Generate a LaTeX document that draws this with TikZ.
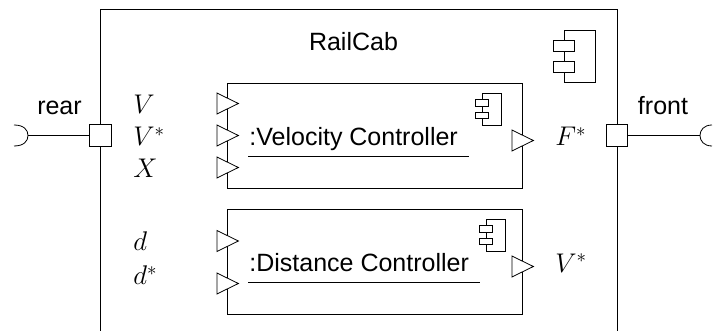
\documentclass[tikz,border=0pt]{standalone}
\usepackage{fix-cm}
\usepackage{fontspec}
\setmainfont{Liberation Sans}
\usetikzlibrary{shapes.geometric}
\tikzset{
  compbox/.style={draw,anchor=north west,inner sep=0pt,minimum width=295pt,minimum height=105pt},
  partbox/.style={draw,fill=white,inner sep=0pt,minimum width=#1},
  portbox/.style={draw,fill=white,inner sep=0pt,minimum size=21.5pt},
  flowport/.style={draw,fill=white,isosceles triangle,isosceles triangle stretches,inner sep=0pt,
    minimum width=21pt,minimum height=21.5pt,anchor=lower side},
  txt/.style={inner sep=0pt,font=\fontsize{25}{30}\selectfont},
  var/.style={inner sep=0pt,anchor=base west,font=\fontsize{27}{32}\selectfont}
}
\begin{document}
\begin{tikzpicture}[x=1pt,y=-1pt,line width=.8pt,line join=miter]
\useasboundingbox (0,0) rectangle (713,331);
\coordinate (railsw) at (100.5,331);
\coordinate (railnw) at (100.5,9);
\coordinate (railne) at (617,9);
\coordinate (railse) at (617,331);
\draw (railsw)--(railnw)--(railne)--(railse);
\node[txt,anchor=base] (railcab) at (353.5,51) {RailCab};
\coordinate (bigtop) at (564,30);
\coordinate (bigtr) at (595.5,30);
\coordinate (bigbr) at (595.5,82.5);
\coordinate (bigbot) at (564,82.5);
\draw (bigtop)--(bigtr)--(bigbr)--(bigbot)--cycle;
\node[partbox=21.5pt,minimum height=10.5pt] (bigup) at (564,46) {};
\node[partbox=21.5pt,minimum height=10.5pt] (bigdown) at (564,67) {};
%
\node[compbox] (velocity) at (227,83) {};
\node[compbox] (distance) at (227,209) {};
\node[txt,anchor=base west] (veltext) at (249,146) {:Velocity Controller};
\node[txt,anchor=base west] (disttext) at (249,272) {:Distance Controller};
\coordinate (velulstart) at (248,156);
\coordinate (velulend) at (469,156);
\coordinate (distulstart) at (248,282.5);
\coordinate (distulend) at (480,282.5);
\draw (velulstart)--(velulend);
\draw (distulstart)--(distulend);
\foreach \name/\x/\y in {velicon/482/93,disticon/486/219}{
  \coordinate (\name a) at (\x,\y);
  \coordinate (\name b) at (\x+19.5,\y);
  \coordinate (\name c) at (\x+19.5,\y+32);
  \coordinate (\name d) at (\x,\y+32);
  \draw (\name a)--(\name b)--(\name c)--(\name d)--cycle;
  \node[partbox=13pt,minimum height=6.5pt] (\name up) at (\x,\y+10) {};
  \node[partbox=13pt,minimum height=6.5pt] (\name down) at (\x,\y+22.5) {};
}
%
\node[flowport] (vin) at (216.5,103.5) {};
\node[flowport] (vstarin) at (216.5,135.5) {};
\node[flowport] (xin) at (216.5,167.5) {};
\node[flowport] (fout) at (511.5,140.5) {};
\node[flowport] (din) at (216.5,241) {};
\node[flowport] (dstarin) at (216.5,283.5) {};
\node[flowport] (vstarout) at (511.5,266.5) {};
%
\node[var] (vlabel) at (133,114) {$V$};
\node[var] (vstarlabel) at (133,146) {$V^*$};
\node[var] (xlabel) at (133,178) {$X$};
\node[var] (flabel) at (555,146) {$F^*$};
\node[var] (dlabel) at (133,251) {$d$};
\node[var] (dstarlabel) at (133,285) {$d^*$};
\node[var] (voutlabel) at (555,272.5) {$V^*$};
%
\node[portbox] (rear) at (100.5,135.5) {};
\node[portbox] (front) at (617,135.5) {};
\node[txt,anchor=base] (reartext) at (59.5,115) {rear};
\node[txt,anchor=base] (fronttext) at (663,115) {front};
\coordinate (rearsocket) at (28,135.5);
\coordinate (frontsocket) at (700,135.5);
\draw (rear)--(rearsocket);
\draw (front)--(frontsocket);
\draw (14,125) .. controls (24,125) and (28,130) .. (rearsocket) .. controls (28,141) and (24,146) .. (14,146);
\draw (712,125) .. controls (704,125) and (700,130) .. (frontsocket) .. controls (700,141) and (704,146) .. (712,146);
\end{tikzpicture}
\end{document}
